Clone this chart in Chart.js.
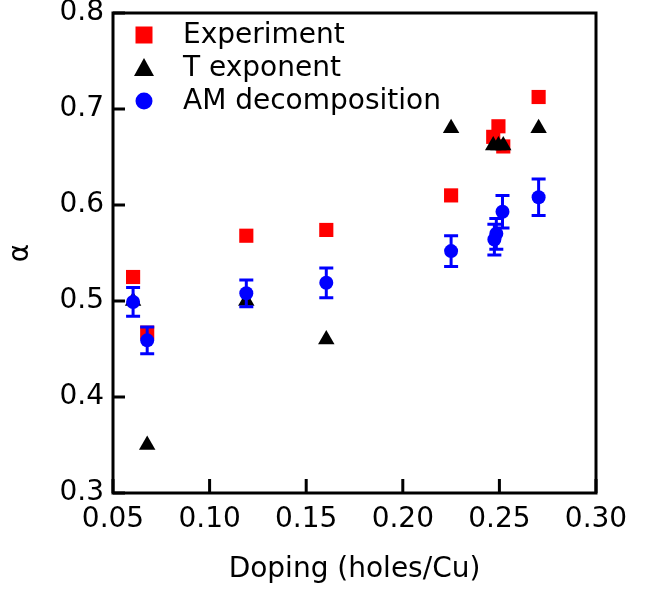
<!DOCTYPE html>
<html>
<head>
<meta charset="utf-8">
<script src="https://cdn.jsdelivr.net/npm/chart.js@4.4.1/dist/chart.umd.min.js"></script>
<style>
  html, body { margin: 0; padding: 0; background: #fff; }
  #wrap { width: 651px; height: 593px; }
</style>
</head>
<body>
<div id="wrap"><canvas id="myChart" width="651" height="593"></canvas></div>
<script>
// values
const expDoping = [0.0604, 0.0677, 0.119, 0.1604, 0.225, 0.2468, 0.2495, 0.252, 0.2703];
const expAlpha  = [0.525, 0.467, 0.568, 0.574, 0.610, 0.671, 0.682, 0.661, 0.7125];

const tDoping = [0.0604, 0.0677, 0.119, 0.1604, 0.225, 0.2468, 0.2495, 0.252, 0.2703];
const tAlpha  = [0.500, 0.350, 0.500, 0.460, 0.680, 0.662, 0.662, 0.662, 0.680];

const amDoping = [0.0604, 0.0677, 0.119, 0.1604, 0.225, 0.2474, 0.2484, 0.2516, 0.2703];
const amAlpha  = [0.499, 0.459, 0.508, 0.519, 0.552, 0.564, 0.570, 0.593, 0.608];
const amErr    = [0.015, 0.014, 0.014, 0.0155, 0.016, 0.016, 0.016, 0.017, 0.019];

const xTicks = [0.05, 0.10, 0.15, 0.20, 0.25, 0.30];
const yTicks = [0.3, 0.4, 0.5, 0.6, 0.7, 0.8];

const FONT = "'DejaVu Sans', sans-serif";

const toPoints = (xs, ys) => xs.map((x, i) => ({x: x, y: ys[i]}));

// error bars on the AM decomposition points
const errorBars = {
  id: 'errorBars',
  afterDatasetsDraw(chart) {
    const ctx = chart.ctx;
    const xs = chart.scales.x, ys = chart.scales.y;
    ctx.save();
    ctx.strokeStyle = '#0000ff';
    ctx.lineWidth = 3;
    amDoping.forEach((d, i) => {
      const px = xs.getPixelForValue(d);
      const top = ys.getPixelForValue(amAlpha[i] + amErr[i]);
      const bot = ys.getPixelForValue(amAlpha[i] - amErr[i]);
      ctx.beginPath();
      ctx.moveTo(px, top); ctx.lineTo(px, bot);
      ctx.moveTo(px - 7, top); ctx.lineTo(px + 7, top);
      ctx.moveTo(px - 7, bot); ctx.lineTo(px + 7, bot);
      ctx.stroke();
    });
    ctx.restore();
  }
};

// box frame + inward ticks + legend inside the plot
const frame = {
  id: 'frame',
  afterDraw(chart) {
    const ctx = chart.ctx;
    const a = chart.chartArea;
    const xs = chart.scales.x, ys = chart.scales.y;
    ctx.save();
    ctx.strokeStyle = '#000';
    ctx.lineWidth = 3;
    ctx.strokeRect(a.left, a.top, a.right - a.left, a.bottom - a.top);
    ctx.beginPath();
    xTicks.forEach(v => {
      const px = xs.getPixelForValue(v);
      ctx.moveTo(px, a.bottom); ctx.lineTo(px, a.bottom - 14);
    });
    yTicks.forEach(v => {
      const py = ys.getPixelForValue(v);
      ctx.moveTo(a.left, py); ctx.lineTo(a.left + 12, py);
    });
    ctx.stroke();

    // legend
    const rows = [35, 68, 101];
    const mx = a.left + 31;
    ctx.font = "28px " + FONT;
    ctx.textBaseline = 'middle';
    chart.data.datasets.forEach((ds, i) => {
      const y = rows[i];
      ctx.fillStyle = ds.backgroundColor;
      ctx.beginPath();
      if (ds.pointStyle === 'rect') {
        ctx.rect(mx - 8.5, y - 8.5, 17, 17);
      } else if (ds.pointStyle === 'triangle') {
        ctx.moveTo(mx, y - 10); ctx.lineTo(mx + 10, y + 8); ctx.lineTo(mx - 10, y + 8);
        ctx.closePath();
      } else {
        ctx.arc(mx, y, 8.5, 0, Math.PI * 2);
      }
      ctx.fill();
      ctx.fillStyle = '#000';
      ctx.fillText(ds.label, a.left + 70, y + 1);
    });
    ctx.restore();
  }
};

const ctx = document.getElementById('myChart').getContext('2d');
new Chart(ctx, {
  type: 'scatter',
  data: {
    datasets: [
      {
        label: 'Experiment',
        data: toPoints(expDoping, expAlpha),
        pointStyle: 'rect',
        pointRadius: 10,
        backgroundColor: '#ff0000',
        borderWidth: 0,
        order: 3
      },
      {
        label: 'T exponent',
        data: toPoints(tDoping, tAlpha),
        pointStyle: 'triangle',
        pointRadius: 9.5,
        backgroundColor: '#000000',
        borderWidth: 0,
        order: 2
      },
      {
        label: 'AM decomposition',
        data: toPoints(amDoping, amAlpha),
        pointStyle: 'circle',
        pointRadius: 7,
        backgroundColor: '#0000ff',
        borderWidth: 0,
        order: 1
      }
    ]
  },
  options: {
    responsive: false,
    animation: false,
    layout: { padding: { top: 0, right: 55, left: 0, bottom: 0 } },
    plugins: {
      legend: { display: false },
      tooltip: { enabled: false }
    },
    scales: {
      x: {
        type: 'linear',
        min: 0.05, max: 0.30,
        afterBuildTicks: s => { s.ticks = xTicks.map(v => ({value: v})); },
        afterFit: s => { s.height = 100; s.paddingLeft = 0; s.paddingRight = 0; },
        grid: { display: false, drawTicks: false },
        border: { display: false },
        ticks: {
          padding: 10,
          color: '#000',
          font: { family: FONT, size: 28 },
          callback: v => v.toFixed(2)
        },
        title: {
          display: true,
          text: 'Doping (holes/Cu)',
          color: '#000',
          font: { family: FONT, size: 28 },
          padding: { top: 0, bottom: 6 }
        }
      },
      y: {
        type: 'linear',
        min: 0.3, max: 0.8,
        afterBuildTicks: s => { s.ticks = yTicks.map(v => ({value: v})); },
        afterFit: s => { s.width = 113; s.paddingTop = 13; s.paddingBottom = 0; },
        grid: { display: false, drawTicks: false },
        border: { display: false },
        ticks: {
          padding: 9,
          color: '#000',
          font: { family: FONT, size: 28 },
          callback: v => v.toFixed(1)
        },
        title: {
          display: true,
          text: 'α',
          color: '#000',
          font: { family: FONT, size: 28 },
          padding: { top: 4, bottom: 0 }
        }
      }
    }
  },
  plugins: [errorBars, frame]
});
</script>
</body>
</html>
